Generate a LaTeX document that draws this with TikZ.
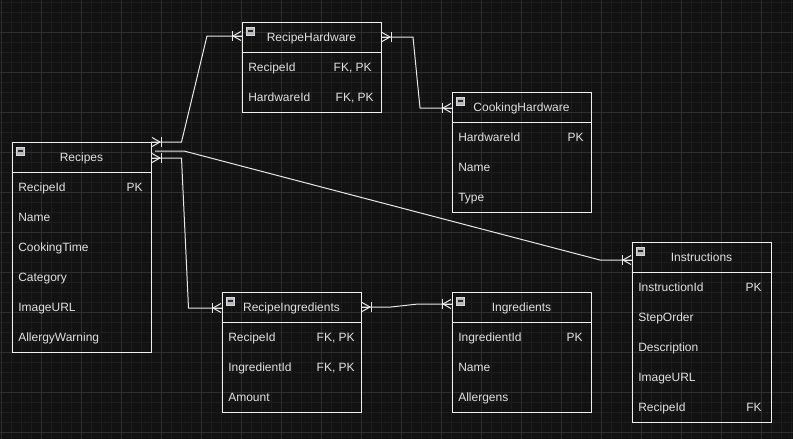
\documentclass[tikz,border=0pt]{standalone}
\usepackage{fontspec}
\setmainfont{Liberation Sans}
\usetikzlibrary{calc}
\definecolor{bgc}{HTML}{121212}
\definecolor{minorc}{HTML}{1D1D1D}
\definecolor{majorc}{HTML}{2F2F2F}
\definecolor{bordc}{HTML}{F0F0F0}
\definecolor{txtc}{HTML}{E2E2E2}
\definecolor{connc}{HTML}{E8E8E8}
\definecolor{iconfill}{HTML}{B8B8BC}
\definecolor{icondraw}{HTML}{D8D8DC}
\definecolor{icondash}{HTML}{2A2A2A}
\tikzset{
  tbl/.style={draw=bordc, line width=0.75pt, anchor=north west, minimum width=104.25pt, inner sep=0pt, outer sep=0pt},
  sepline/.style={draw=bordc, line width=0.75pt},
  hdr/.style={text=txtc, font=\fontsize{9pt}{10pt}\selectfont, inner sep=0pt, text height=6.6pt, text depth=1.9pt},
  rowtxt/.style={hdr},
  conn/.style={draw=connc, line width=0.75pt},
  iconbox/.style={draw=icondraw, fill=iconfill, line width=0.5pt, minimum size=6pt, inner sep=0pt},
  icondashline/.style={draw=icondash, line width=1.1pt}
}
\newcommand\ertbl[5]{%
  \node[tbl, minimum height={#4*0.75pt}] (#1) at (#2,#3) {};
  \draw[sepline] ($(#1.north west)+(0,30)$) -- ($(#1.north east)+(0,30)$);
  \node[hdr] (#1-t) at ($(#1.north)+(0,16)$) {#5};
  \node[iconbox] (#1-i) at ($(#1.north west)+(8,9)$) {};
  \draw[icondashline] ($(#1-i.center)+(-2.5,0)$) -- ($(#1-i.center)+(2.5,0)$);
}
\newcommand\errow[5]{%
  \node[rowtxt, anchor=west] (#1-n#2) at ($(#1.north west)+(6,{16+30*#2})$) {#3};
  \if\relax\detokenize{#4}\relax\else
    \node[rowtxt, anchor=east] (#1-k#2) at ($(#1.north east)+({-#5},{16+30*#2})$) {#4};
  \fi
}
\newcommand\onemany[2]{%
  \draw[conn] ($(#1)+({#2*10},-5)$) -- ($(#1)+({#2*10},5)$);
  \draw[conn] ($(#1)+({#2*9},0)$) -- ($(#1)+({#2*1},-4.5)$);
  \draw[conn] ($(#1)+({#2*9},0)$) -- ($(#1)+({#2*1},4.5)$);
  \draw[conn] ($(#1)+({#2*9},0)$) -- (#1);
}
\begin{document}
\begin{tikzpicture}[x=0.75pt, y=-0.75pt]
\useasboundingbox (0,0) rectangle (793,439);
\fill[bgc] (0,0) rectangle (793,439);
% grid
\foreach \gx in {1,11,...,791} \draw[minorc, line width=0.75pt] (\gx,0) -- (\gx,439);
\foreach \gy in {2,12,...,432} \draw[minorc, line width=0.75pt] (0,\gy) -- (793,\gy);
\foreach \gx in {1,41,...,761} \draw[majorc, line width=0.75pt] (\gx,0) -- (\gx,439);
\foreach \gy in {32,72,...,432} \draw[majorc, line width=0.75pt] (0,\gy) -- (793,\gy);

% tables
\ertbl{recipes}{12}{142}{210}{Recipes}
\errow{recipes}{1}{RecipeId}{PK}{8}
\errow{recipes}{2}{Name}{}{8}
\errow{recipes}{3}{CookingTime}{}{8}
\errow{recipes}{4}{Category}{}{8}
\errow{recipes}{5}{ImageURL}{}{8}
\errow{recipes}{6}{AllergyWarning}{}{8}

\ertbl{rh}{242}{22}{90}{RecipeHardware}
\errow{rh}{1}{RecipeId}{FK, PK}{9}
\errow{rh}{2}{HardwareId}{FK, PK}{7}

\ertbl{ch}{452}{92}{120}{CookingHardware}
\errow{ch}{1}{HardwareId}{PK}{7}
\errow{ch}{2}{Name}{}{7}
\errow{ch}{3}{Type}{}{7}

\ertbl{instr}{632}{242}{180}{Instructions}
\errow{instr}{1}{InstructionId}{PK}{9}
\errow{instr}{2}{StepOrder}{}{9}
\errow{instr}{3}{Description}{}{9}
\errow{instr}{4}{ImageURL}{}{9}
\errow{instr}{5}{RecipeId}{FK}{9}

\ertbl{ri}{222}{292}{120}{RecipeIngredients}
\errow{ri}{1}{RecipeId}{FK, PK}{6}
\errow{ri}{2}{IngredientId}{FK, PK}{6}
\errow{ri}{3}{Amount}{}{6}

\ertbl{ingr}{452}{292}{120}{Ingredients}
\errow{ingr}{1}{IngredientId}{PK}{8}
\errow{ingr}{2}{Name}{}{8}
\errow{ingr}{3}{Allergens}{}{8}

% connection points
\coordinate (c1a) at (recipes.north east);
\coordinate (c1b) at ($(rh.north west)+(0,14)$);
\coordinate (c2a) at ($(recipes.north east)+(0,16)$);
\coordinate (c2b) at ($(ri.north west)+(0,16)$);
\coordinate (c3a) at ($(recipes.north east)+(4,9)$);
\coordinate (c3b) at ($(instr.north west)+(0,18)$);
\coordinate (c4a) at ($(rh.north east)+(0,15)$);
\coordinate (c4b) at ($(ch.north west)+(0,16)$);
\coordinate (c5a) at ($(ri.north east)+(0,15)$);
\coordinate (c5b) at ($(ingr.north west)+(0,12)$);

% connectors
\draw[conn] (c1a) -- ++(30.5,0) -- ($(c1b)+(-35,0)$) -- (c1b);
\draw[conn] (c2a) -- ++(30.5,0) -- ($(c2b)+(-33.5,0)$) -- (c2b);
\draw[conn] (c3a) -- ++(29,0) -- ($(c3b)+(-32,0)$) -- (c3b);
\draw[conn] (c4a) -- ++(32,0) -- ($(c4b)+(-32,0)$) -- (c4b);
\draw[conn] (c5a) -- ++(30,0) -- ($(c5b)+(-34,0)$) -- (c5b);

% markers
\onemany{c1a}{1}
\onemany{c1b}{-1}
\onemany{c2a}{1}
\onemany{c2b}{-1}
\onemany{c3b}{-1}
\onemany{c4a}{1}
\onemany{c4b}{-1}
\onemany{c5a}{1}
\onemany{c5b}{-1}
\end{tikzpicture}
\end{document}
